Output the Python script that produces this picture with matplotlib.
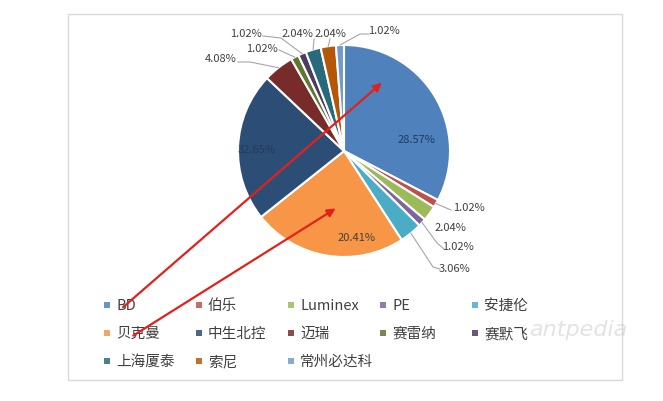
import numpy as np
import matplotlib
matplotlib.use('Agg')
import matplotlib.pyplot as plt
from matplotlib.patches import Rectangle

plt.rcParams['font.family'] = ['Noto Sans CJK SC', 'DejaVu Sans']

W, H = 663, 402

# ── data (slice sizes, labels as printed) ──
names = ['BD', '伯乐', 'Luminex', 'PE', '安捷伦', '贝克曼', '中生北控',
         '迈瑞', '赛雷纳', '赛默飞', '上海厦泰', '索尼', '常州必达科']
shares = [32.3, 1.2, 2.3, 1.2, 3.4, 23.2, 22.5, 4.6, 1.2, 1.2, 2.3, 2.3, 1.2]
pct_labels = ['28.57%', '1.02%', '2.04%', '1.02%', '3.06%', '20.41%', '32.65%',
              '4.08%', '1.02%', '1.02%', '2.04%', '2.04%', '1.02%']
colors = ['#4f81bd', '#c0504d', '#9bbb59', '#8064a2', '#4bacc6', '#f79646',
          '#2c4d75', '#772c2a', '#5f7530', '#4d3b62', '#276a7c', '#b65708',
          '#729aca']

# ── layout (pixels) ──
CX, CY, R = 344, 152, 106
inside_pos = {0: (416, 140, '#1f3864'), 5: (357, 238, '#404040'),
              6: (257, 150, '#223b5e')}
# text centre, leader points near the text
outside_pos = {
    1: ((469, 208), [(451, 211)]),
    2: ((450, 228), []),
    3: ((458, 247), [(437, 244), (444, 250)]),
    4: ((455, 269), [(433, 268), (440, 270)]),
    7: ((221, 59), [(250, 63), (238, 63)]),
    8: ((262, 49), [(279, 51)]),
    9: ((246, 34), [(281, 39), (263, 37)]),
    10: ((297, 34), [(314, 40)]),
    11: ((330, 34), [(330, 40)]),
    12: ((384, 31), [(360, 35), (369, 35)]),
}


def to_data(p):
    return ((p[0] - CX) / R, (CY - p[1]) / R)


def fig_frac(p):
    return (p[0] / W, 1 - p[1] / H)


fig = plt.figure(figsize=(W / 100, H / 100), dpi=100)

# frame
fig.patches.append(Rectangle(fig_frac((68, 381)), (622 - 68) / W, (381 - 15) / H,
                             transform=fig.transFigure, fill=False,
                             edgecolor='#d9d9d9', lw=1))

# watermark
fig.text(*fig_frac((578, 330)), 'antpedia', fontsize=16, color='#c8c8c8',
         alpha=0.5, ha='center', va='center', style='italic',
         family='DejaVu Sans')

ax = fig.add_axes([(CX - R) / W, (H - CY - R) / H, 2 * R / W, 2 * R / H])
wedges, _ = ax.pie(shares, colors=colors, startangle=90, counterclock=False,
                   radius=1, wedgeprops=dict(edgecolor='white', linewidth=1.5))
ax.set_xlim(-1, 1)
ax.set_ylim(-1, 1)
ax.axis('off')

for i, (px, py, c) in inside_pos.items():
    x, y = to_data((px, py))
    ax.text(x, y, pct_labels[i], ha='center', va='center', fontsize=8, color=c)

for i, (tp, pts) in outside_pos.items():
    w = wedges[i]
    mid = np.deg2rad((w.theta1 + w.theta2) / 2)
    x, y = to_data(tp)
    ax.text(x, y, pct_labels[i], ha='center', va='center', fontsize=8,
            color='#404040', clip_on=False)
    if pts:
        xs = [np.cos(mid)] + [to_data(p)[0] for p in pts]
        ys = [np.sin(mid)] + [to_data(p)[1] for p in pts]
        ax.plot(xs, ys, color='#a6a6a6', lw=0.8, clip_on=False)

# legend grid
lax = fig.add_axes([0, 0, 1, 1], facecolor='none')
lax.set_xlim(0, W)
lax.set_ylim(H, 0)
lax.axis('off')
for i, (n, c) in enumerate(zip(names, colors)):
    col, row = i % 5, i // 5
    mx = 107 + 92 * col
    my = 306 + 28 * row
    lax.scatter([mx], [my], marker='s', s=22, color=c, alpha=0.85, lw=0)
    lax.text(mx + 9, my, n, ha='left', va='center', fontsize=10.5,
             color='#404040')

# red arrows
for tail, head in [((121, 310), (384, 82)), ((131, 338), (338, 208))]:
    lax.annotate('', xy=head, xytext=tail,
                 arrowprops=dict(arrowstyle='-|>', color='#e3211c', lw=1.6,
                                 mutation_scale=12))

fig.savefig('out.png', dpi=100, facecolor='white')
